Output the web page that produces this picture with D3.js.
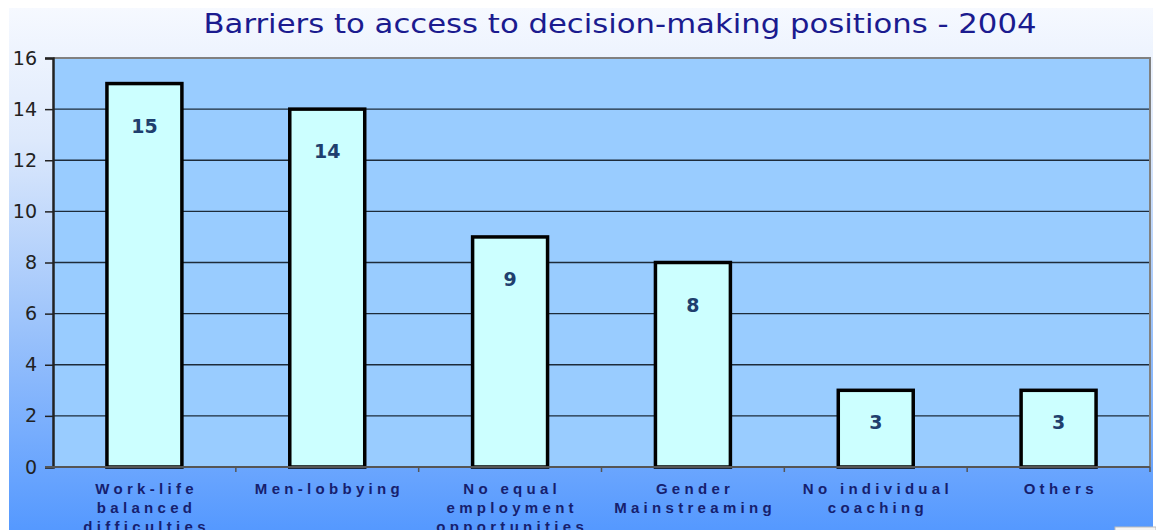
<!DOCTYPE html>
<html>
<head>
<meta charset="utf-8">
<script src="https://cdn.jsdelivr.net/npm/d3@7"></script>
<style>
  body { margin: 0; background: #fff; }
  svg { display: block; }
</style>
</head>
<body>
<svg width="1156" height="530"></svg>
<script>
var categories = [
    ["Work-life", "balanced", "difficulties"],
    ["Men-lobbying"],
    ["No equal", "employment", "opportunities"],
    ["Gender", "Mainstreaming"],
    ["No individual", "coaching"],
    ["Others"]
];
var values = [15, 14, 9, 8, 3, 3];
var yTicks = [0, 2, 4, 6, 8, 10, 12, 14, 16];
var title = "Barriers to access to decision-making positions - 2004";

var svg = d3.select("svg");
var width = +svg.attr("width");
var height = +svg.attr("height");

var plot = {left: 53, right: 1150, top: 58, bottom: 467};
var ls = 4.3; // letter spacing of category labels

// background gradient
var defs = svg.append("defs");
var grad = defs.append("linearGradient")
    .attr("id", "bg")
    .attr("x1", 0).attr("y1", 0)
    .attr("x2", 0).attr("y2", 1);
grad.append("stop").attr("offset", "0%").attr("stop-color", "#f6f9ff");
grad.append("stop").attr("offset", "25%").attr("stop-color", "#dde9fc");
grad.append("stop").attr("offset", "60%").attr("stop-color", "#9cc3fb");
grad.append("stop").attr("offset", "100%").attr("stop-color", "#5297ff");

svg.append("rect")
    .attr("x", 9).attr("y", 8)
    .attr("width", 1144).attr("height", 530)
    .attr("fill", "url(#bg)");

// small box bottom right
svg.append("rect")
    .attr("x", 1115).attr("y", 527)
    .attr("width", 41).attr("height", 10)
    .attr("fill", "#f4f4f4")
    .attr("stroke", "#bbb");

var x = d3.scaleBand()
    .domain(d3.range(values.length))
    .range([plot.left, plot.right])
    .paddingInner(0.59)
    .paddingOuter(0.295);

var xOuter = d3.scaleBand()
    .domain(d3.range(values.length))
    .range([plot.left, plot.right]);

var y = d3.scaleLinear()
    .domain([0, 16])
    .range([plot.bottom, plot.top]);

// plot area
svg.append("rect")
    .attr("x", plot.left).attr("y", plot.top)
    .attr("width", plot.right - plot.left)
    .attr("height", plot.bottom - plot.top)
    .attr("fill", "#99ccff");

// grid lines
svg.append("g")
    .selectAll("line")
    .data(yTicks.filter(function(d) { return d > 0 && d < 16; }))
    .enter()
    .append("line")
    .attr("x1", plot.left).attr("x2", plot.right)
    .attr("y1", function(d) { return y(d); })
    .attr("y2", function(d) { return y(d); })
    .attr("stroke", "#1d2b3a")
    .attr("stroke-width", 1.3);

// plot border top/right
svg.append("path")
    .attr("d", "M" + plot.left + "," + plot.top + "H" + plot.right + "V" + plot.bottom)
    .attr("fill", "none")
    .attr("stroke", "#808080")
    .attr("stroke-width", 2);

// bars
svg.append("g")
    .selectAll("rect")
    .data(values)
    .enter()
    .append("rect")
    .attr("x", function(d, i) { return x(i); })
    .attr("y", function(d) { return y(d); })
    .attr("width", x.bandwidth())
    .attr("height", function(d) { return y(0) - y(d); })
    .attr("fill", "#ccffff")
    .attr("stroke", "#000")
    .attr("stroke-width", 3.5);

// value labels
svg.append("g")
    .selectAll("text")
    .data(values)
    .enter()
    .append("text")
    .attr("x", function(d, i) { return x(i) + x.bandwidth() / 2; })
    .attr("y", function(d) { return Math.min(y(d) + 42, (y(d) + y(0)) / 2 - 7) + 7; })
    .attr("text-anchor", "middle")
    .attr("font-family", "Verdana, 'DejaVu Sans', sans-serif")
    .attr("font-weight", "bold")
    .attr("font-size", 19)
    .attr("fill", "#1f3f6e")
    .text(function(d) { return d; });

// y axis
var yAxis = svg.append("g")
    .attr("transform", "translate(" + plot.left + ",0)")
    .call(d3.axisLeft(y).tickValues(yTicks).tickSize(8).tickPadding(8));
yAxis.select(".domain").attr("stroke", "#222").attr("stroke-width", 2.5);
yAxis.selectAll(".tick line").attr("stroke", "#222").attr("stroke-width", 1.5);
yAxis.selectAll("text")
    .attr("font-family", "Verdana, 'DejaVu Sans', sans-serif")
    .attr("font-size", 19)
    .attr("fill", "#222");

// x axis baseline and ticks between categories
var xAxis = svg.append("g")
    .attr("transform", "translate(0," + plot.bottom + ")");
xAxis.append("line")
    .attr("x1", plot.left - 8).attr("x2", plot.right)
    .attr("stroke", "#555").attr("stroke-width", 2);
xAxis.selectAll(".sep")
    .data(d3.range(1, values.length + 1))
    .enter()
    .append("line")
    .attr("class", "sep")
    .attr("x1", function(d) { return d < values.length ? xOuter(d) : plot.right; })
    .attr("x2", function(d) { return d < values.length ? xOuter(d) : plot.right; })
    .attr("y1", 0).attr("y2", 5)
    .attr("stroke", "#555").attr("stroke-width", 1.5);

// category labels
var labels = svg.append("g")
    .selectAll("text")
    .data(categories)
    .enter()
    .append("text")
    .attr("y", 494)
    .attr("text-anchor", "middle")
    .attr("font-family", "Arial, 'Liberation Sans', sans-serif")
    .attr("font-weight", "bold")
    .attr("font-size", 15)
    .attr("letter-spacing", ls + "px")
    .attr("fill", "#16206e");

labels.selectAll("tspan")
    .data(function(d, i) {
        return d.map(function(t) { return {t: t, i: i}; });
    })
    .enter()
    .append("tspan")
    .attr("x", function(d) { return xOuter(d.i) + xOuter.bandwidth() / 2 + ls / 2; })
    .attr("dy", function(d, j) { return j === 0 ? 0 : 19; })
    .text(function(d) { return d.t; });

// title
svg.append("text")
    .attr("x", 620)
    .attr("y", 33)
    .attr("text-anchor", "middle")
    .attr("font-family", "Verdana, 'DejaVu Sans', sans-serif")
    .attr("font-size", 26)
    .attr("textLength", 833)
    .attr("lengthAdjust", "spacingAndGlyphs")
    .attr("fill", "#1b1b8f")
    .text(title);
</script>
</body>
</html>
